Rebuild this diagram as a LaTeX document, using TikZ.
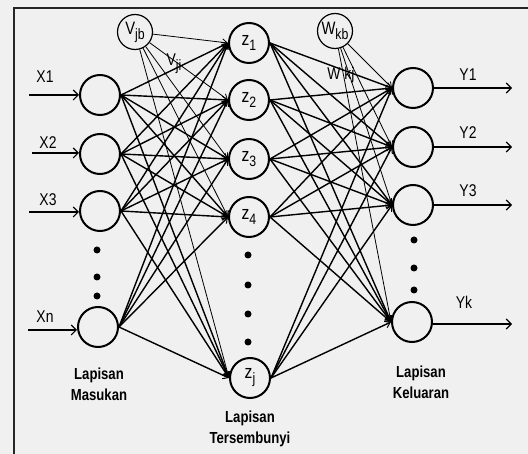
\documentclass[tikz,border=0pt]{standalone}
\usepackage{fontspec}
\setmainfont{Liberation Sans}
\newfontfamily\narrowfont[FakeStretch=0.82]{Liberation Sans}
\usetikzlibrary{arrows.meta}
\definecolor{bgcol}{HTML}{F0F0F0}
\newcommand\lowsub[1]{\raisebox{-5pt}{\fontsize{15}{15}\selectfont #1}}
\begin{document}
\begin{tikzpicture}[x=1pt,y=-1pt,
  neuron/.style={draw, line width=2pt, circle, minimum size=40pt, inner sep=0pt, font=\narrowfont\fontsize{19}{19}\selectfont},
  bias/.style={draw, line width=1.2pt, circle, minimum size=35pt, inner sep=0pt, font=\narrowfont\fontsize{18}{18}\selectfont},
  link/.style={line width=1.4pt, -{Straight Barb[length=5pt,width=7pt,line width=1pt]}},
  thinlink/.style={line width=0.8pt, -{Straight Barb[length=5pt,width=7pt,line width=0.8pt]}},
  io/.style={line width=2.2pt, -{Straight Barb[length=5pt,width=10pt,line width=1.1pt]}},
  lbl/.style={font=\narrowfont\fontsize{17}{17}\selectfont, inner sep=0pt},
  layer/.style={font=\narrowfont\bfseries\fontsize{16}{21}\selectfont, align=center, inner sep=0pt},
  dotnode/.style={circle, fill, inner sep=0pt, minimum width=6pt, minimum height=7pt}
]
\fill[bgcol] (0,0) rectangle (528,454);
\useasboundingbox (0,0) rectangle (528,454);
\draw[line width=2pt, black!85] (14,454) -- (14,8) -- (528,8);

% input layer
\node[neuron] (x1) at (100,95) {};
\node[neuron] (x2) at (100,154) {};
\node[neuron] (x3) at (100,211) {};
\node[neuron] (xn) at (98,327) {};
\node[dotnode] (dx1) at (97,250) {};
\node[dotnode] (dx2) at (97,277) {};
\node[dotnode] (dx3) at (97,296) {};

% hidden layer
\node[neuron] (z1) at (249,43) {z\lowsub{1}};
\node[neuron] (z2) at (249,100) {z\lowsub{2}};
\node[neuron] (z3) at (249,159) {z\lowsub{3}};
\node[neuron] (z4) at (249,217) {z\lowsub{4}};
\node[neuron] (zj) at (250,378) {z\lowsub{j}};
\node[dotnode] (dz1) at (248,255) {};
\node[dotnode] (dz2) at (248,285) {};
\node[dotnode] (dz3) at (248,314) {};
\node[dotnode] (dz4) at (248,342) {};

% output layer
\node[neuron] (y1) at (413,88) {};
\node[neuron] (y2) at (413,147) {};
\node[neuron] (y3) at (413,205) {};
\node[neuron] (yk) at (412,322) {};
\node[dotnode] (dy1) at (414,240) {};
\node[dotnode] (dy2) at (414,268) {};
\node[dotnode] (dy3) at (414,290) {};

% bias nodes
\node[bias] (vjb) at (135,32) {V\lowsub{jb}};
\node[bias] (wkb) at (335,31) {W\lowsub{kb}};

% connections input -> hidden
\foreach \s in {x1,x2,x3,xn}
  \foreach \t in {z1,z2,z3,z4,zj}
    \draw[link] (\s.east) -- (\t.west);
\foreach \t in {z1,z2,z3,z4,zj}
  \draw[thinlink] (vjb) -- (\t.west);

% connections hidden -> output
\foreach \s in {z1,z2,z3,z4,zj}
  \foreach \t in {y1,y2,y3,yk}
    \draw[link] (\s.east) -- (\t.west);
\foreach \t in {y1,y2,y3,yk}
  \draw[thinlink] (wkb) -- (\t.west);

% weight labels
\node[lbl] (vji) at (174,64) {V\lowsub{ji}};
\node[lbl] (wkj) at (341,75) {W kj};

% input arrows
\coordinate (a1) at (29,95);
\coordinate (a2) at (32,153);
\coordinate (a3) at (29,212);
\coordinate (an) at (28,330);
\draw[io] (a1) -- (x1.west);
\draw[io] (a2) -- (x2.west |- a2);
\draw[io] (a3) -- (x3.west |- a3);
\draw[io, line width=2.8pt] (an) -- (xn.west |- an);
\node[lbl] (lx1) at (45,77) {X1};
\node[lbl] (lx2) at (48,143) {X2};
\node[lbl] (lx3) at (48,200) {X3};
\node[lbl] (lxn) at (45,317) {Xn};

% output arrows
\coordinate (b1) at (512,88);
\coordinate (b2) at (512,147);
\coordinate (b3) at (512,205);
\coordinate (bk) at (512,324);
\draw[io, line width=2.6pt] (y1.east) -- (b1);
\draw[io, line width=1.4pt] (y2.east) -- (b2);
\draw[io, line width=1.4pt] (y3.east) -- (b3);
\draw[io, line width=2.8pt] (yk.east |- bk) -- (bk);
\node[lbl] (ly1) at (468,75) {Y1};
\node[lbl] (ly2) at (468,133) {Y2};
\node[lbl] (ly3) at (468,191) {Y3};
\node[lbl] (lyk) at (464,302) {Yk};

% layer labels
\node[layer] (lin) at (99,384) {Lapisan\\Masukan};
\node[layer] (lhid) at (250,429) {Lapisan\\Tersembunyi};
\node[layer] (lout) at (421,382) {Lapisan\\Keluaran};
\end{tikzpicture}
\end{document}
